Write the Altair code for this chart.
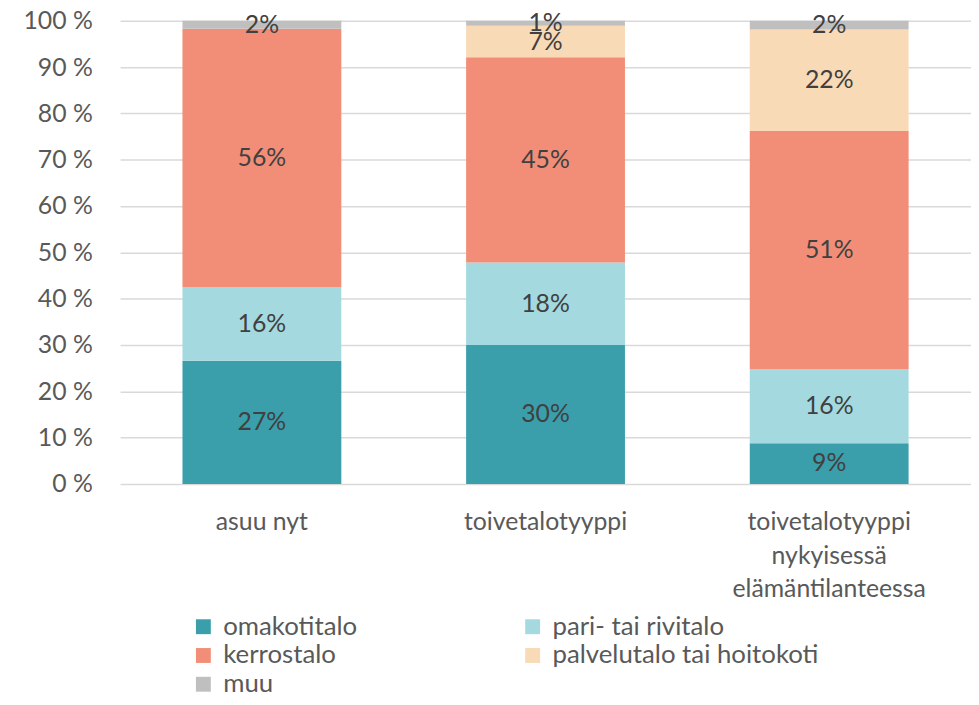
import altair as alt
import pandas as pd

categories = ["asuu nyt", "toivetalotyyppi", "toivetalotyyppi nykyisessä elämäntilanteessa"]
series = ["omakotitalo", "pari- tai rivitalo", "kerrostalo", "palvelutalo tai hoitokoti", "muu"]
colors = ["#3A9FAB", "#A4DADF", "#F28E78", "#F8DAB7", "#BFBFBF"]

omakotitalo = [26.6, 30.0, 8.8]
pari = [15.9, 17.8, 16.0]
kerrostalo = [55.8, 44.3, 51.4]
palvelu = [0.0, 6.8, 21.9]
muu = [1.7, 1.1, 1.9]

label_omakotitalo = ["27%", "30%", "9%"]
label_pari = ["16%", "18%", "16%"]
label_kerrostalo = ["56%", "45%", "51%"]
label_palvelu = ["", "7%", "22%"]
label_muu = ["2%", "1%", "2%"]

vals = [omakotitalo, pari, kerrostalo, palvelu, muu]
labs = [label_omakotitalo, label_pari, label_kerrostalo, label_palvelu, label_muu]

rows = []
for si, s in enumerate(series):
    for ci, c in enumerate(categories):
        rows.append({"cat": c, "series": s, "idx": si, "value": vals[si][ci], "label": labs[si][ci]})
df = pd.DataFrame(rows)

FONT = "Lato"

x_label_expr = ("datum.label == 'toivetalotyyppi nykyisessä elämäntilanteessa' ? "
                "['toivetalotyyppi', 'nykyisessä', 'elämäntilanteessa'] : datum.label")

base = alt.Chart(df).transform_stack(
    stack="value", groupby=["cat"], as_=["y0", "y1"], sort=[alt.SortField("idx", order="ascending")]
).transform_calculate(mid="(datum.y0 + datum.y1) / 2")

x_enc = alt.X("cat:N", sort=categories, title=None,
              scale=alt.Scale(paddingInner=0.44, paddingOuter=0.22),
              axis=alt.Axis(labelAngle=0, labelExpr=x_label_expr, labelFontSize=25, labelFont=FONT,
                            labelColor="#595959", labelPadding=26, labelLineHeight=34, ticks=False,
                            domain=False, labelBaseline="top", labelLimit=500))

bars = base.mark_bar().encode(
    x=x_enc,
    y=alt.Y("y0:Q", scale=alt.Scale(domain=[0, 100], nice=False), title=None,
            axis=alt.Axis(values=list(range(0, 101, 10)), labelExpr="datum.value + ' %'",
                          labelFontSize=25, labelFont=FONT, labelColor="#595959", labelPadding=28,
                          ticks=False, domain=False, grid=True, gridColor="#D9D9D9", gridWidth=1.5)),
    y2="y1:Q",
    color=alt.Color("series:N", sort=series, scale=alt.Scale(domain=series, range=colors),
                    legend=alt.Legend(title=None, orient="none", legendX=71, legendY=598, columns=2,
                                      direction="horizontal", symbolType="square", symbolSize=225,
                                      symbolStrokeWidth=0, labelFontSize=26, labelFont=FONT,
                                      labelColor="#595959", labelOffset=7, columnPadding=163,
                                      rowPadding=3, padding=0, labelLimit=400)),
)

texts = base.transform_filter("datum.value > 0").mark_text(
    fontSize=25, font=FONT, color="#404040", baseline="middle", align="center"
).encode(
    x=alt.X("cat:N", sort=categories),
    y=alt.Y("mid:Q"),
    text="label:N",
)

chart = alt.layer(bars, texts).properties(
    width=858, height=467,
    autosize=alt.AutoSizeParams(type="none"),
    padding={"left": 113, "top": 10, "right": 0, "bottom": 212},
).configure_view(stroke=None)

chart.save("out.html", embed_options={"renderer": "svg", "actions": False})
